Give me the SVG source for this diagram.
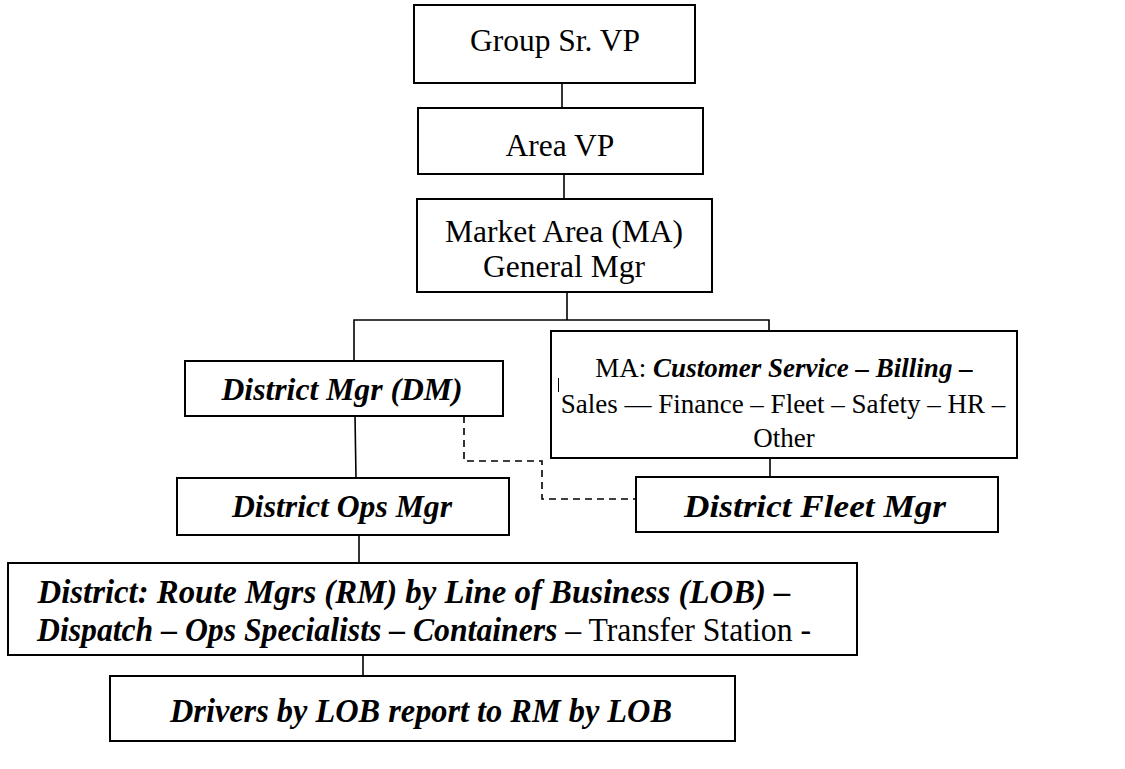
<svg xmlns="http://www.w3.org/2000/svg" width="1125" height="769" viewBox="0 0 1125 769">
<style>
.box{fill:#fff;stroke:#000;stroke-width:2}
.ln{fill:none;stroke:#000;stroke-width:1.6}
.dash{fill:none;stroke:#000;stroke-width:1.6;stroke-dasharray:7 5}
.t{font-family:"Liberation Serif","Times New Roman",serif;fill:#000;text-anchor:middle}
.bi{font-weight:bold;font-style:italic}
.r{font-weight:normal;font-style:normal}
</style>
<rect width="1125" height="769" fill="#fff"/>
<g id="connectors">
<line class="ln" x1="562" y1="83" x2="562" y2="108"/>
<line class="ln" x1="564" y1="174" x2="564" y2="199"/>
<line class="ln" x1="567" y1="292" x2="567" y2="320"/>
<polyline class="ln" points="354,361 354,320 769,320 769,331"/>
<line class="ln" x1="770" y1="458" x2="770" y2="477"/>
<line class="ln" x1="355" y1="416" x2="356" y2="478"/>
<polyline class="dash" points="464,416 464,461 542,461 542,499 636,499"/>
<line class="ln" x1="359" y1="535" x2="359" y2="563"/>
<line class="ln" x1="363" y1="655" x2="363" y2="676"/>
</g>
<g id="n-group-sr-vp">
<rect class="box" x="414" y="5" width="281" height="78"/>
<text class="t" x="555" y="51" font-size="31.5">Group Sr. VP</text>
</g>
<g id="n-area-vp">
<rect class="box" x="418" y="108" width="285" height="66"/>
<text class="t" x="560" y="156" font-size="31.5">Area VP</text>
</g>
<g id="n-market-area">
<rect class="box" x="417" y="199" width="295" height="93"/>
<text class="t" x="564" y="242" font-size="31.5">Market Area (MA)</text>
<text class="t" x="564" y="277" font-size="31.5">General Mgr</text>
</g>
<g id="n-district-mgr">
<rect class="box" x="185" y="361" width="318" height="55"/>
<text class="t bi" x="342" y="400" font-size="31" textLength="241" lengthAdjust="spacingAndGlyphs">District Mgr (DM)</text>
</g>
<g id="n-ma-functions">
<rect class="box" x="551" y="331" width="466" height="127"/>
<text class="t" x="784" y="377" font-size="27">MA: <tspan class="bi">Customer Service – Billing –</tspan></text>
<line x1="558.5" y1="378" x2="558.5" y2="392" stroke="#000" stroke-width="1"/>
<text class="t" x="783" y="413" font-size="27">Sales — Finance – Fleet – Safety – HR –</text>
<text class="t" x="784" y="447" font-size="27">Other</text>
</g>
<g id="n-district-ops-mgr">
<rect class="box" x="177" y="478" width="332" height="57"/>
<text class="t bi" x="342" y="517" font-size="31" textLength="220" lengthAdjust="spacingAndGlyphs">District Ops Mgr</text>
</g>
<g id="n-district-fleet-mgr">
<rect class="box" x="636" y="477" width="362" height="55"/>
<text class="t bi" x="815" y="517" font-size="32" textLength="262" lengthAdjust="spacingAndGlyphs">District Fleet Mgr</text>
</g>
<g id="n-route-mgrs">
<rect class="box" x="8" y="563" width="849" height="92"/>
<text class="t bi" x="414" y="603" font-size="33" textLength="753" lengthAdjust="spacingAndGlyphs">District: Route Mgrs (RM) by Line of Business (LOB) –</text>
<text class="t bi" x="424" y="641" font-size="33" textLength="774" lengthAdjust="spacingAndGlyphs">Dispatch – Ops Specialists – Containers<tspan class="r"> – Transfer Station -</tspan></text>
</g>
<g id="n-drivers">
<rect class="box" x="110" y="676" width="625" height="65"/>
<text class="t bi" x="421" y="722" font-size="34" textLength="502" lengthAdjust="spacingAndGlyphs">Drivers by LOB report to RM by LOB</text>
</g>
</svg>
